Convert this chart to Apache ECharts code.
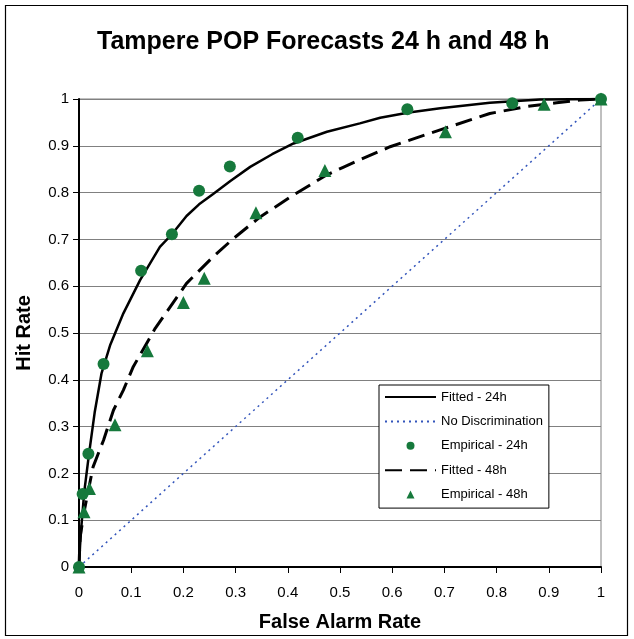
<!DOCTYPE html>
<html>
<head>
<meta charset="utf-8">
<script src="https://cdn.jsdelivr.net/npm/echarts@6/dist/echarts.min.js"></script>
<style>
html,body{margin:0;padding:0;background:#fff;}
#chart{width:634px;height:639px;}
</style>
</head>
<body>
<div id="chart"></div>
<script>
var titleText = 'Tampere POP Forecasts 24 h and 48 h';
var xName = 'False Alarm Rate';
var yName = 'Hit Rate';
var seriesNames = ['Fitted - 24h', 'No Discrimination', 'Empirical - 24h', 'Fitted - 48h', 'Empirical - 48h'];

var fitted24 = [[0,0],[0.002,0.045],[0.0045,0.086],[0.01,0.16],[0.019,0.24],[0.03,0.33],[0.043,0.413],[0.06,0.475],[0.085,0.542],[0.117,0.613],[0.155,0.684],[0.178,0.711],[0.206,0.75],[0.23,0.775],[0.257,0.797],[0.29,0.825],[0.328,0.855],[0.37,0.882],[0.411,0.905],[0.475,0.93],[0.538,0.948],[0.577,0.96],[0.632,0.971],[0.692,0.98],[0.787,0.992],[0.883,0.999],[1,1]];
var noDiscrimination = [[0,0],[1,1]];
var empirical24 = [[0,0],[0.007,0.156],[0.018,0.242],[0.047,0.434],[0.119,0.633],[0.178,0.711],[0.230,0.804],[0.289,0.856],[0.419,0.917],[0.629,0.978],[0.830,0.991],[1,1]];
var fitted48 = [[0,0],[0.002,0.064],[0.0115,0.128],[0.027,0.214],[0.047,0.271],[0.066,0.335],[0.085,0.378],[0.104,0.428],[0.146,0.51],[0.206,0.606],[0.257,0.663],[0.296,0.702],[0.347,0.748],[0.411,0.795],[0.475,0.838],[0.506,0.854],[0.538,0.87],[0.596,0.898],[0.692,0.934],[0.787,0.969],[0.858,0.984],[0.915,0.992],[0.96,0.998],[1,1]];
var empirical48 = [[0,0],[0.0096,0.118],[0.020,0.168],[0.069,0.304],[0.131,0.462],[0.200,0.565],[0.240,0.617],[0.339,0.757],[0.471,0.847],[0.702,0.930],[0.891,0.989],[1,1]];

var green = '#16793C';
var font = 'Arial, "Liberation Sans", Helvetica, sans-serif';
var hiddenMark = {color: 'rgba(0,0,0,0)', borderWidth: 0, opacity: 0};

var chart = echarts.init(document.getElementById('chart'), null, {renderer: 'canvas'});
chart.setOption({
  animation: false,
  backgroundColor: '#fff',
  textStyle: {fontFamily: font},
  graphic: [{
    type: 'rect', shape: {x: 5.5, y: 5.5, width: 622, height: 630},
    style: {fill: 'none', stroke: '#000', lineWidth: 1.2}, silent: true, z: -1
  }],
  title: {
    text: titleText, left: 97, top: 30, padding: 0,
    textStyle: {fontSize: 25, fontWeight: 'bold', color: '#000', fontFamily: font}
  },
  legend: {
    orient: 'vertical', left: 379, top: 385,
    padding: [5.5, 6, 7, 5],
    backgroundColor: '#fff',
    borderColor: '#000', borderWidth: 1,
    itemWidth: 51, itemHeight: 8, itemGap: 11.4,
    symbolKeepAspect: true,
    textStyle: {fontSize: 13, color: '#000', fontFamily: font, lineHeight: 13},
    data: [
      {name: seriesNames[0], itemStyle: hiddenMark},
      {name: seriesNames[1], itemStyle: hiddenMark},
      {name: seriesNames[2], icon: 'circle'},
      {name: seriesNames[3], itemStyle: hiddenMark},
      {name: seriesNames[4], icon: 'path://M0,10L5,0L10,10Z'}
    ]
  },
  grid: {left: 79, right: 33, top: 99, bottom: 72, show: true, borderColor: '#808080', borderWidth: 1, backgroundColor: 'transparent'},
  xAxis: {
    type: 'value', min: 0, max: 1, interval: 0.1,
    name: xName, nameLocation: 'middle', nameGap: 45,
    nameTextStyle: {fontSize: 20, fontWeight: 'bold', color: '#000', fontFamily: font},
    axisLine: {show: true, onZero: false, lineStyle: {color: '#000', width: 2}},
    axisTick: {show: true, length: 6, lineStyle: {color: '#000', width: 1}},
    axisLabel: {fontSize: 15, color: '#000', margin: 18, fontFamily: font},
    splitLine: {show: false}
  },
  yAxis: {
    type: 'value', min: 0, max: 1, interval: 0.1,
    name: yName, nameLocation: 'middle', nameGap: 45, nameRotate: 90,
    nameTextStyle: {fontSize: 20, fontWeight: 'bold', color: '#000', fontFamily: font},
    axisLine: {show: true, onZero: false, lineStyle: {color: '#000', width: 2}},
    axisTick: {show: true, length: 6, lineStyle: {color: '#000', width: 1}},
    axisLabel: {fontSize: 15, color: '#000', margin: 10, fontFamily: font},
    splitLine: {show: true, lineStyle: {color: '#808080', width: 1}}
  },
  series: [
    {name: seriesNames[0], type: 'line', data: fitted24, symbol: 'none', z: 3,
     lineStyle: {color: '#000', width: 2.5}, itemStyle: {color: '#000'}},
    {name: seriesNames[1], type: 'line', data: noDiscrimination, symbol: 'none', z: 2,
     lineStyle: {color: '#3355bb', width: 1.5, type: [2, 4]}, itemStyle: {color: '#3355bb'}},
    {name: seriesNames[2], type: 'scatter', data: empirical24, symbol: 'circle', symbolSize: 12, z: 5,
     itemStyle: {color: green, opacity: 1}},
    {name: seriesNames[3], type: 'line', data: fitted48, symbol: 'none', z: 3,
     lineStyle: {color: '#000', width: 3, type: [17, 8]}, itemStyle: {color: '#000'}},
    {name: seriesNames[4], type: 'scatter', data: empirical48, symbol: 'triangle', symbolSize: 13, z: 5,
     itemStyle: {color: green, opacity: 1}}
  ]
});
</script>
</body>
</html>
